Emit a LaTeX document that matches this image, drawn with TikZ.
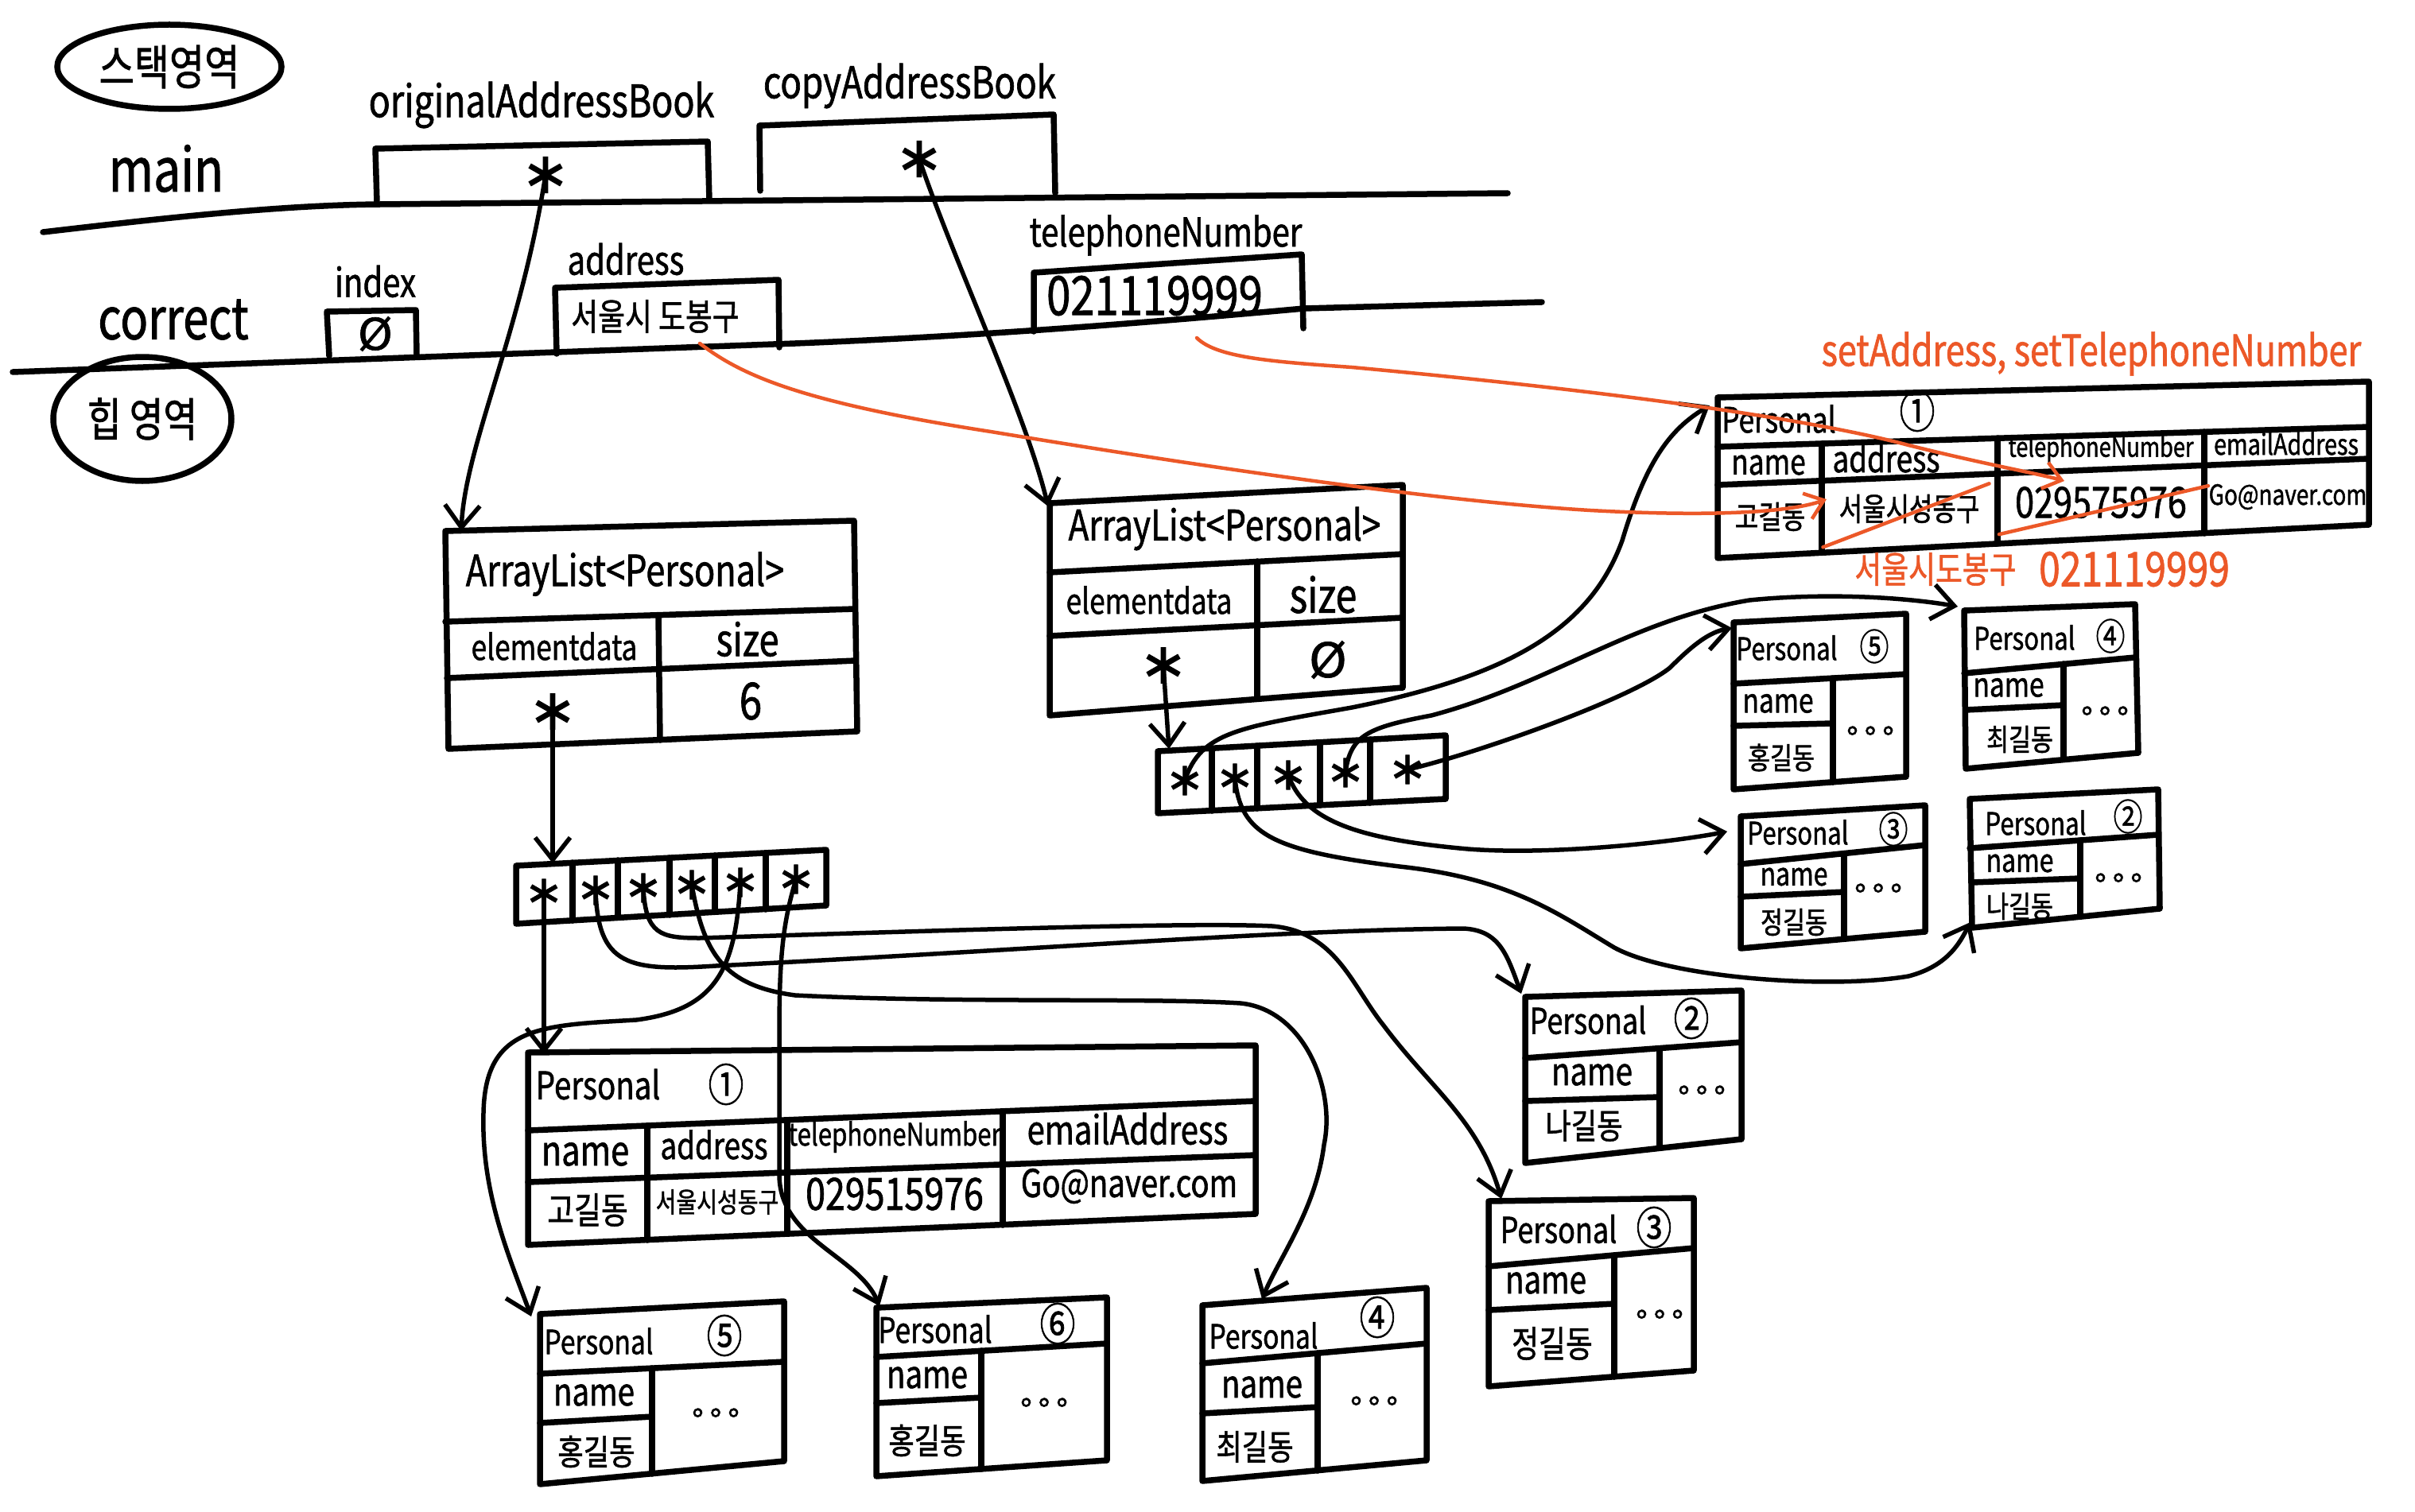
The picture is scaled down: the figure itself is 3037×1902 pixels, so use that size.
\documentclass[tikz,border=0pt]{standalone}
\usepackage{fontspec}
\setmainfont{Noto Sans CJK KR}[FakeStretch=0.8,FakeBold=1.2]
\newfontfamily\sym{DejaVu Sans}[FakeBold=1.2]
\usetikzlibrary{arrows.meta,shapes.geometric}
\definecolor{orng}{RGB}{236,88,40}
\newcommand\fs[1]{\fontsize{#1}{#1}\selectfont}
\begin{document}
\begin{tikzpicture}[x=1pt,y=-1pt,
  box/.style={line width=7.5pt,line join=round,line cap=round},
  conn/.style={line width=5.5pt,line cap=round,-{Straight Barb[length=28pt,width=44pt]}},
  orl/.style={draw=orng,line width=4.5pt,line cap=round},
  ora/.style={orl,-{Straight Barb[length=22pt,width=34pt]}},
  t/.style={inner sep=0pt,anchor=center},
  ast/.style={t,font=\sym\fs{72}},
  cast/.style={t,font=\sym\fs{58}},
  dots/.style={t,font=\sym\fs{36}}]
\fill[white] (0,0) rectangle (3037,1902);
\useasboundingbox (0,0) rectangle (3037,1902);

% ================= stack =================
\node[draw,ellipse,line width=7.5pt,minimum width=282pt,minimum height=106pt,inner sep=0pt,font=\fs{60}] (stackE) at (213,84) {스택영역};
\node[t,font=\fs{76}] (mainL) at (209,212) {main};
\node[t,font=\fs{72}] (corrL) at (218,402) {correct};

\draw[box] (54,292) .. controls (200,275) and (350,258) .. (478,257) -- (1896,243);
\draw[box] (16,468) -- (1000,432) .. controls (1200,424) and (1400,410) .. (1640,388) -- (1939,380);

\draw[box] (474,255) -- (472,187) -- (890,178) -- (892,252);
\node[t,font=\fs{56}] (oLbl) at (681,132) {originalAddressBook};
\node[ast] (oA) at (686,220) {∗};

\draw[box] (956,240) -- (955,158) -- (1325,144) -- (1327,243);
\node[t,font=\fs{55}] (cLbl) at (1144,108) {copyAddressBook};
\node[ast] (cA) at (1156,200) {∗};

\draw[box] (414,448) -- (411,392) -- (523,390) -- (524,446);
\node[t,font=\fs{50}] (iLbl) at (472,354) {index};
\node[t,font=\sym\fs{55}] (iV) at (472,420) {Ø};

\draw[box] (700,445) -- (698,362) -- (979,352) -- (980,437);
\node[t,font=\fs{50}] (aLbl) at (787,326) {address};
\node[t,font=\fs{46}] (aV) at (824,398) {서울시 도봉구};

\draw[box] (1300,417) -- (1300,343) -- (1637,320) -- (1639,413);
\node[t,font=\fs{50}] (tLbl) at (1466,296) {telephoneNumber};
\node[t,font=\fs{68}] (tV) at (1452,372) {021119999};

% ================= heap =================
\node[draw,ellipse,line width=7.5pt,minimum width=224pt,minimum height=156pt,inner sep=0pt,font=\fs{58}] (heapE) at (179,527) {힙 영역};

% ArrayList 1
\draw[box] (560,668) -- (1074,655) -- (1078,920) -- (564,942) -- cycle;
\draw[box] (560,782) -- (1075,766);
\draw[box] (562,853) -- (1076,831);
\draw[box] (828,774) -- (830,931);
\node[t,font=\fs{54}] (al1T) at (786,722) {ArrayList<Personal>};
\node[t,font=\fs{44}] (al1e) at (697,813) {elementdata};
\node[t,font=\fs{56}] (al1s) at (940,804) {size};
\node[ast] (al1A) at (695,895) {∗};
\node[t,font=\fs{64}] (al1v) at (944,882) {6};

% left array
\draw[box] (649,1089) -- (1039,1069) -- (1039,1139) -- (649,1162) -- cycle;
\draw[box] (720,1085) -- (720,1158);
\draw[box] (777,1082) -- (777,1154);
\draw[box] (842,1079) -- (842,1151);
\draw[box] (899,1076) -- (899,1147);
\draw[box] (963,1073) -- (963,1144);
\node[cast] (la1) at (684,1124) {∗};
\node[cast] (la2) at (749,1120) {∗};
\node[cast] (la3) at (809,1117) {∗};
\node[cast] (la4) at (870,1113) {∗};
\node[cast] (la5) at (931,1110) {∗};
\node[cast] (la6) at (1001,1106) {∗};

% Personal 1 (left)
\draw[box] (664,1324) -- (1579,1315) -- (1579,1527) -- (664,1566) -- cycle;
\draw[box] (664,1422) -- (1579,1385);
\draw[box] (664,1487) -- (1579,1453);
\draw[box] (814,1416) -- (814,1560);
\draw[box] (990,1409) -- (990,1552);
\draw[box] (1261,1398) -- (1261,1541);
\node[t,font=\fs{48}] (p1T) at (752,1364) {Personal};
\node[t,font=\fs{56}] (p1N) at (913,1364) {①};
\node[t,font=\fs{52}] (p1h1) at (736,1452) {name};
\node[t,font=\fs{46}] (p1h2) at (898,1440) {address};
\node[t,font=\fs{39}] (p1h3) at (1125,1430) {telephoneNumber};
\node[t,font=\fs{50}] (p1h4) at (1418,1420) {emailAddress};
\node[t,font=\fs{46}] (p1v1) at (739,1522) {고길동};
\node[t,font=\fs{35}] (p1v2) at (902,1512) {서울시성동구};
\node[t,font=\fs{56}] (p1v3) at (1125,1502) {029515976};
\node[t,font=\fs{48}] (p1v4) at (1420,1492) {Go@naver.com};

% Personal 5 (bottom)
\draw[box] (679,1653) -- (986,1637) -- (986,1838) -- (679,1867) -- cycle;
\draw[box] (679,1728) -- (986,1713);
\draw[box] (820,1721) -- (820,1854);
\draw[box] (679,1790) -- (820,1782);
\node[t,font=\fs{42}] (p5bT) at (753,1687) {Personal};
\node[t,font=\fs{56}] (p5bN) at (911,1680) {⑤};
\node[t,font=\fs{48}] (p5bn) at (747,1755) {name};
\node[t,font=\fs{44}] (p5bv) at (750,1826) {홍길동};
\node[dots] (p5bd) at (900,1780) {∘∘∘};

% Personal 6 (bottom)
\draw[box] (1102,1645) -- (1392,1632) -- (1392,1837) -- (1102,1857) -- cycle;
\draw[box] (1102,1707) -- (1392,1690);
\draw[box] (1234,1699) -- (1234,1848);
\draw[box] (1102,1765) -- (1234,1758);
\node[t,font=\fs{44}] (p6bT) at (1176,1672) {Personal};
\node[t,font=\fs{56}] (p6bN) at (1330,1665) {⑥};
\node[t,font=\fs{48}] (p6bn) at (1166,1733) {name};
\node[t,font=\fs{44}] (p6bv) at (1166,1812) {홍길동};
\node[dots] (p6bd) at (1313,1767) {∘∘∘};

% Personal 4 (bottom)
\draw[box] (1512,1642) -- (1794,1620) -- (1794,1837) -- (1512,1863) -- cycle;
\draw[box] (1512,1715) -- (1794,1690);
\draw[box] (1657,1702) -- (1657,1850);
\draw[box] (1512,1778) -- (1657,1770);
\node[t,font=\fs{42}] (p4bT) at (1589,1680) {Personal};
\node[t,font=\fs{56}] (p4bN) at (1732,1657) {④};
\node[t,font=\fs{48}] (p4bn) at (1587,1745) {name};
\node[t,font=\fs{44}] (p4bv) at (1578,1820) {최길동};
\node[dots] (p4bd) at (1728,1765) {∘∘∘};

% Personal 2 (middle)
\draw[box] (1918,1254) -- (2190,1246) -- (2190,1433) -- (1918,1463) -- cycle;
\draw[box] (1918,1331) -- (2190,1311);
\draw[box] (2087,1319) -- (2087,1444);
\draw[box] (1918,1385) -- (2087,1380);
\node[t,font=\fs{45}] (p2mT) at (1997,1283) {Personal};
\node[t,font=\fs{56}] (p2mN) at (2127,1281) {②};
\node[t,font=\fs{48}] (p2mn) at (2002,1352) {name};
\node[t,font=\fs{44}] (p2mv) at (1992,1416) {나길동};
\node[dots] (p2md) at (2140,1374) {∘∘∘};

% Personal 3 (middle)
\draw[box] (1872,1511) -- (2130,1507) -- (2130,1724) -- (1872,1744) -- cycle;
\draw[box] (1872,1593) -- (2130,1570);
\draw[box] (2030,1579) -- (2030,1732);
\draw[box] (1872,1648) -- (2030,1640);
\node[t,font=\fs{45}] (p3mT) at (1960,1546) {Personal};
\node[t,font=\fs{56}] (p3mN) at (2080,1544) {③};
\node[t,font=\fs{48}] (p3mn) at (1944,1614) {name};
\node[t,font=\fs{46}] (p3mv) at (1952,1690) {정길동};
\node[dots] (p3md) at (2087,1656) {∘∘∘};

% ArrayList 2
\draw[box] (1320,633) -- (1764,610) -- (1764,865) -- (1320,900) -- cycle;
\draw[box] (1320,720) -- (1764,697);
\draw[box] (1320,800) -- (1764,777);
\draw[box] (1581,706) -- (1581,879);
\node[t,font=\fs{53}] (al2T) at (1540,665) {ArrayList<Personal>};
\node[t,font=\fs{44}] (al2e) at (1445,755) {elementdata};
\node[t,font=\fs{60}] (al2s) at (1664,748) {size};
\node[ast] (al2A) at (1463,837) {∗};
\node[t,font=\sym\fs{60}] (al2v) at (1670,830) {Ø};

% right array
\draw[box] (1456,945) -- (1818,925) -- (1818,1005) -- (1456,1023) -- cycle;
\draw[box] (1524,941) -- (1524,1020);
\draw[box] (1581,938) -- (1581,1017);
\draw[box] (1660,934) -- (1660,1013);
\draw[box] (1723,930) -- (1723,1010);
\node[cast] (ra1) at (1490,982) {∗};
\node[cast] (ra2) at (1553,979) {∗};
\node[cast] (ra3) at (1620,975) {∗};
\node[cast] (ra4) at (1692,972) {∗};
\node[cast] (ra5) at (1770,968) {∗};

% Personal 1 (right, updated)
\draw[box] (2160,500) -- (2979,480) -- (2979,660) -- (2160,702) -- cycle;
\draw[box] (2160,562) -- (2979,537);
\draw[box] (2160,610) -- (2979,577);
\draw[box] (2291,558) -- (2291,695);
\draw[box] (2512,551) -- (2512,684);
\draw[box] (2772,543) -- (2772,671);
\node[t,font=\fs{44}] (p1rT) at (2237,527) {Personal};
\node[t,font=\fs{56}] (p1rN) at (2411,517) {①};
\node[t,font=\fs{44}] (p1rh1) at (2224,585) {name};
\node[t,font=\fs{46}] (p1rh2) at (2372,576) {address};
\node[t,font=\fs{34}] (p1rh3) at (2642,565) {telephoneNumber};
\node[t,font=\fs{36}] (p1rh4) at (2875,558) {emailAddress};
\node[t,font=\fs{40}] (p1rv1) at (2226,650) {고길동};
\node[t,font=\fs{40}] (p1rv2) at (2401,640) {서울시성동구};
\node[t,font=\fs{54}] (p1rv3) at (2642,632) {029575976};
\node[t,font=\fs{35}] (p1rv4) at (2877,625) {Go@naver.com};

% Personal 5 (right)
\draw[box] (2180,783) -- (2397,772) -- (2397,977) -- (2180,993) -- cycle;
\draw[box] (2180,860) -- (2397,848);
\draw[box] (2305,853) -- (2305,984);
\draw[box] (2180,913) -- (2305,910);
\node[t,font=\fs{39}] (p5rT) at (2247,815) {Personal};
\node[t,font=\fs{46}] (p5rN) at (2357,813) {⑤};
\node[t,font=\fs{42}] (p5rn) at (2236,885) {name};
\node[t,font=\fs{38}] (p5rv) at (2240,953) {홍길동};
\node[dots] (p5rd) at (2352,922) {∘∘∘};

% Personal 4 (right)
\draw[box] (2470,768) -- (2685,760) -- (2689,947) -- (2472,967) -- cycle;
\draw[box] (2470,847) -- (2685,827);
\draw[box] (2595,835) -- (2595,955);
\draw[box] (2472,893) -- (2595,887);
\node[t,font=\fs{39}] (p4rT) at (2546,802) {Personal};
\node[t,font=\fs{46}] (p4rN) at (2654,800) {④};
\node[t,font=\fs{42}] (p4rn) at (2526,865) {name};
\node[t,font=\fs{38}] (p4rv) at (2540,930) {최길동};
\node[dots] (p4rd) at (2647,897) {∘∘∘};

% Personal 3 (right)
\draw[box] (2189,1027) -- (2421,1013) -- (2421,1172) -- (2189,1193) -- cycle;
\draw[box] (2189,1087) -- (2421,1063);
\draw[box] (2319,1074) -- (2319,1181);
\draw[box] (2189,1128) -- (2319,1122);
\node[t,font=\fs{39}] (p3rT) at (2261,1047) {Personal};
\node[t,font=\fs{46}] (p3rN) at (2381,1043) {③};
\node[t,font=\fs{40}] (p3rn) at (2256,1103) {name};
\node[t,font=\fs{38}] (p3rv) at (2256,1160) {정길동};
\node[dots] (p3rd) at (2362,1120) {∘∘∘};

% Personal 2 (right)
\draw[box] (2477,1005) -- (2714,993) -- (2716,1143) -- (2480,1167) -- cycle;
\draw[box] (2477,1067) -- (2714,1050);
\draw[box] (2616,1057) -- (2616,1153);
\draw[box] (2480,1110) -- (2616,1105);
\node[t,font=\fs{39}] (p2rT) at (2560,1035) {Personal};
\node[t,font=\fs{46}] (p2rN) at (2676,1027) {②};
\node[t,font=\fs{40}] (p2rn) at (2540,1086) {name};
\node[t,font=\fs{38}] (p2rv) at (2540,1140) {나길동};
\node[dots] (p2rd) at (2664,1107) {∘∘∘};

% ================= tips =================
\coordinate (al1tip) at (580,668);
\coordinate (latop) at (695,1086);
\coordinate (p1tip) at (684,1326);
\coordinate (p2mtip) at (1913,1250);
\coordinate (p3mtip) at (1888,1508);
\coordinate (p4btip) at (1587,1634);
\coordinate (p5btip) at (668,1656);
\coordinate (p6btip) at (1106,1643);
\coordinate (al2tip) at (1318,637);
\coordinate (ratop) at (1470,942);
\coordinate (p1rtip) at (2150,510);
\coordinate (p2rtip) at (2478,1160);
\coordinate (p3rtip) at (2172,1046);
\coordinate (p4rtip) at (2462,763);
\coordinate (p5rtip) at (2178,790);
\coordinate (o1s) at (880,432);
\coordinate (o1e) at (2297,628);
\coordinate (o2s) at (1505,425);
\coordinate (o2e) at (2596,605);

% ================= connectors =================
\draw[conn] (oA.center) .. controls (655,420) and (585,560) .. (al1tip);
\draw[conn] (al1A.center) -- (latop);
\draw[conn] (la1.center) -- (p1tip);
\draw[conn] (la2.center) .. controls (752,1215) and (790,1222) .. (900,1215)
  .. controls (1300,1195) and (1600,1170) .. (1840,1168)
  .. controls (1885,1170) and (1895,1200) .. (p2mtip);
\draw[conn] (la3.center) .. controls (812,1175) and (830,1180) .. (880,1180)
  .. controls (1200,1170) and (1500,1160) .. (1600,1165)
  .. controls (1680,1172) and (1700,1240) .. (1740,1290)
  .. controls (1800,1370) and (1860,1410) .. (p3mtip);
\draw[conn] (la4.center) .. controls (885,1200) and (910,1240) .. (1000,1252)
  .. controls (1200,1262) and (1450,1255) .. (1560,1262)
  .. controls (1640,1270) and (1680,1370) .. (1665,1440)
  .. controls (1655,1520) and (1610,1580) .. (p4btip);
\draw[conn] (la5.center) .. controls (925,1220) and (900,1270) .. (800,1283)
  .. controls (680,1290) and (610,1290) .. (608,1400)
  .. controls (605,1500) and (640,1580) .. (p5btip);
\draw[conn] (la6.center) .. controls (985,1160) and (980,1200) .. (980,1300)
  -- (980,1480) .. controls (982,1560) and (1080,1580) .. (p6btip);

\draw[conn] (cA.center) .. controls (1200,330) and (1290,520) .. (al2tip);
\draw[conn] (al2A.center) -- (ratop);
\draw[conn] (ra1.center) .. controls (1510,920) and (1560,915) .. (1700,890)
  .. controls (1900,850) and (2000,790) .. (2040,680)
  .. controls (2070,580) and (2100,540) .. (p1rtip);
\draw[conn] (ra2.center) .. controls (1560,1050) and (1600,1070) .. (1760,1090)
  .. controls (1900,1105) and (1960,1150) .. (2030,1192)
  .. controls (2100,1230) and (2300,1245) .. (2400,1228)
  .. controls (2450,1215) and (2465,1185) .. (p2rtip);
\draw[conn] (ra3.center) .. controls (1640,1030) and (1700,1055) .. (1846,1068)
  .. controls (1950,1076) and (2100,1060) .. (p3rtip);
\draw[conn] (ra4.center) .. controls (1698,925) and (1720,915) .. (1800,900)
  .. controls (1950,860) and (2050,780) .. (2200,755)
  .. controls (2300,745) and (2400,752) .. (p4rtip);
\draw[conn] (ra5.center) .. controls (1850,950) and (2050,880) .. (2100,840)
  .. controls (2130,810) and (2150,795) .. (p5rtip);

% ================= orange =================
\draw[ora] (o1s) .. controls (930,470) and (1000,505) .. (1246,543)
  .. controls (1500,585) and (1800,630) .. (2000,642)
  .. controls (2150,650) and (2250,645) .. (o1e);
\draw[ora] (o2s) .. controls (1530,450) and (1600,455) .. (1700,462)
  .. controls (1950,485) and (2250,520) .. (2400,560)
  .. controls (2500,585) and (2560,595) .. (o2e);
\draw[orl] (p1rv2.south west) ++(-20,30) coordinate (s1a) -- ++(209,-80);
\draw[orl] (p1rv3.south west) ++(-20,20) coordinate (s2a) -- ++(263,-61);
\node[t,font=\fs{54},text=orng] (setL) at (2630,445) {setAddress, setTelephoneNumber};
\node[t,font=\fs{46},text=orng] (newA) at (2434,716) {서울시도봉구};
\node[t,font=\fs{60},text=orng] (newT) at (2684,716) {021119999};
\end{tikzpicture}
\end{document}
